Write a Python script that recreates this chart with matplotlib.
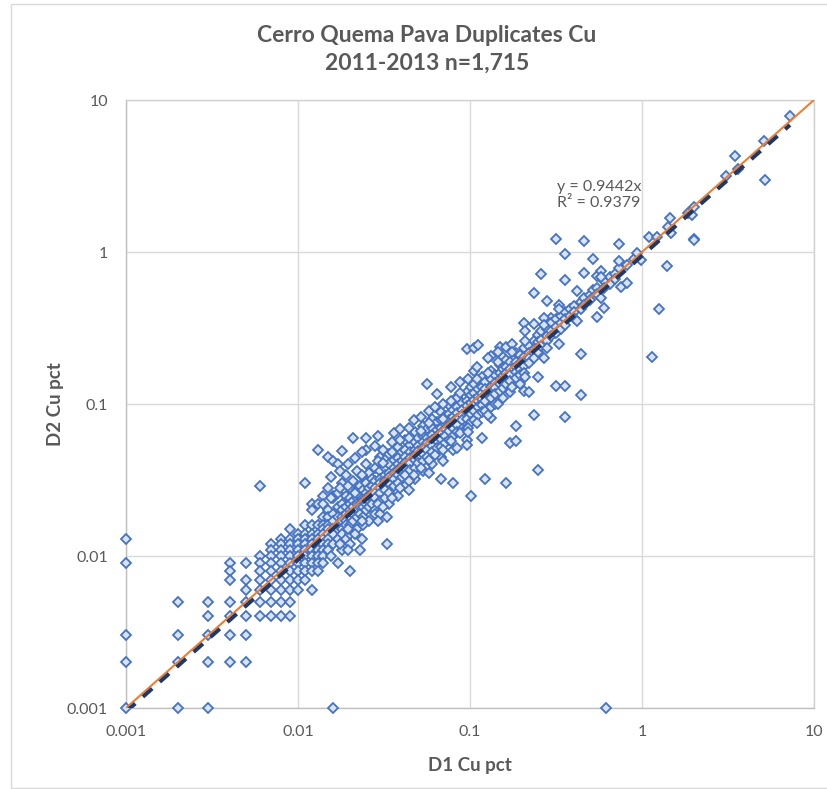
import numpy as np
import matplotlib.pyplot as plt
from matplotlib.patches import Rectangle

plt.rcParams['font.family'] = ['Lato', 'DejaVu Sans']

TITLE = "Cerro Quema Pava Duplicates Cu\n2011-2013 n=1,715"
X_LABEL = "D1 Cu pct"
Y_LABEL = "D2 Cu pct"
TICKS = [0.001, 0.01, 0.1, 1, 10]
TICK_LABELS = ["0.001", "0.01", "0.1", "1", "10"]
SLOPE = 0.9442
R2 = 0.9379

# Low grades: results land on the 0.001 % reporting step (D1 value, D2 values)
grid_cols = [
    (0.001, [0.013, 0.009, 0.003, 0.002, 0.001]),
    (0.002, [0.005, 0.003, 0.002, 0.001]),
    (0.003, [0.005, 0.004, 0.003, 0.002, 0.001]),
    (0.004, [0.009, 0.008, 0.007, 0.005, 0.004, 0.003, 0.002]),
    (0.005, [0.009, 0.007, 0.006, 0.005, 0.004, 0.003, 0.002]),
    (0.006, [0.029, 0.010, 0.009, 0.008, 0.007, 0.006, 0.005, 0.004]),
    (0.007, [0.012, 0.011, 0.010, 0.009, 0.008, 0.007, 0.006, 0.005, 0.004]),
    (0.008, [0.013, 0.012, 0.011, 0.010, 0.009, 0.008, 0.007, 0.006, 0.005, 0.004]),
    (0.009, [0.015, 0.013, 0.012, 0.011, 0.010, 0.009, 0.008, 0.007, 0.006, 0.005, 0.004]),
    (0.010, [0.014, 0.013, 0.012, 0.011, 0.010, 0.009, 0.008, 0.007, 0.006]),
    (0.011, [0.030, 0.016, 0.014, 0.013, 0.012, 0.011, 0.010, 0.009, 0.008, 0.007]),
    (0.012, [0.022, 0.020, 0.016, 0.014, 0.013, 0.012, 0.011, 0.010, 0.009, 0.008, 0.006]),
    (0.013, [0.050, 0.022, 0.016, 0.014, 0.013, 0.012, 0.011, 0.010, 0.009, 0.008]),
    (0.014, [0.025, 0.022, 0.018, 0.016, 0.015, 0.014, 0.013, 0.012, 0.011, 0.010, 0.009]),
]

# Main body of the duplicate cloud (D1 value, D2 values)
core_cols = [
    (0.015, [0.045, 0.028, 0.020, 0.018, 0.016, 0.015, 0.014, 0.013, 0.012, 0.011]),
    (0.016, [0.042, 0.025, 0.024, 0.019, 0.017, 0.015, 0.014, 0.012, 0.001]),
    (0.017, [0.040, 0.026, 0.021, 0.018, 0.016, 0.015, 0.013, 0.009]),
    (0.018, [0.049, 0.030, 0.022, 0.020, 0.018, 0.017, 0.015, 0.014, 0.011]),
    (0.019, [0.034, 0.025, 0.021, 0.019, 0.017, 0.016, 0.013]),
    (0.020, [0.028, 0.024, 0.022, 0.020, 0.019, 0.018, 0.016, 0.014, 0.012, 0.008]),
    (0.021, [0.060, 0.031, 0.023, 0.021, 0.019, 0.017]),
    (0.022, [0.036, 0.027, 0.024, 0.022, 0.020, 0.018, 0.015]),
    (0.023, [0.029, 0.025, 0.022, 0.021, 0.019, 0.011]),
    (0.024, [0.033, 0.027, 0.024, 0.023, 0.021, 0.018, 0.016]),
    (0.025, [0.060, 0.050, 0.040, 0.030, 0.026, 0.024, 0.022, 0.020]),
    (0.026, [0.035, 0.028, 0.025, 0.023, 0.021, 0.017]),
    (0.027, [0.032, 0.029, 0.026, 0.024, 0.022]),
    (0.028, [0.053, 0.038, 0.031, 0.028, 0.026, 0.024, 0.020, 0.019]),
    (0.030, [0.045, 0.036, 0.032, 0.030, 0.028, 0.026, 0.023, 0.019]),
    (0.032, [0.038, 0.034, 0.031, 0.029, 0.027, 0.024]),
    (0.033, [0.044, 0.018, 0.012]),
    (0.034, [0.047, 0.040, 0.035, 0.033, 0.030, 0.026, 0.022]),
    (0.036, [0.064, 0.043, 0.038, 0.035, 0.032, 0.029]),
    (0.038, [0.052, 0.044, 0.040, 0.037, 0.034, 0.030, 0.025]),
    (0.040, [0.048, 0.042, 0.039, 0.036, 0.033]),
    (0.042, [0.058, 0.050, 0.045, 0.041, 0.038, 0.034, 0.029]),
    (0.045, [0.054, 0.048, 0.044, 0.041, 0.037]),
    (0.048, [0.065, 0.056, 0.050, 0.046, 0.043, 0.038, 0.032]),
    (0.050, [0.060, 0.053, 0.049, 0.045, 0.041]),
    (0.053, [0.072, 0.062, 0.056, 0.051, 0.047, 0.042, 0.036]),
    (0.056, [0.136, 0.068, 0.060, 0.055, 0.050, 0.045]),
    (0.060, [0.080, 0.070, 0.063, 0.058, 0.053, 0.048, 0.040]),
    (0.064, [0.116, 0.076, 0.067, 0.062, 0.057, 0.051]),
    (0.068, [0.088, 0.078, 0.070, 0.064, 0.059, 0.052, 0.045, 0.032]),
    (0.072, [0.083, 0.074, 0.068, 0.062, 0.055]),
    (0.076, [0.098, 0.086, 0.078, 0.072, 0.066, 0.058]),
    (0.080, [0.092, 0.082, 0.076, 0.070, 0.062, 0.050, 0.030]),
    (0.084, [0.112, 0.110, 0.096, 0.087, 0.080, 0.073, 0.065, 0.051]),
    (0.090, [0.102, 0.092, 0.085, 0.078, 0.068]),
    (0.096, [0.229, 0.120, 0.105, 0.097, 0.088, 0.080, 0.070, 0.058, 0.054]),
    (0.101, [0.129, 0.115, 0.102, 0.094, 0.086, 0.076, 0.025]),
    (0.106, [0.232, 0.164, 0.135, 0.118, 0.106, 0.098, 0.090, 0.078]),
    (0.111, [0.243, 0.125, 0.112, 0.104, 0.095, 0.085]),
    (0.117, [0.150, 0.130, 0.118, 0.108, 0.098, 0.088, 0.060]),
    (0.122, [0.140, 0.125, 0.114, 0.104, 0.090, 0.032]),
    (0.132, [0.208, 0.165, 0.145, 0.130, 0.120, 0.110, 0.095, 0.081]),
    (0.140, [0.155, 0.138, 0.128, 0.116, 0.100]),
    (0.149, [0.237, 0.180, 0.160, 0.145, 0.135, 0.122]),
    (0.155, [0.205, 0.170, 0.152, 0.140, 0.128, 0.110]),
    (0.162, [0.237, 0.195, 0.175, 0.160, 0.148, 0.135, 0.030]),
    (0.170, [0.190, 0.170, 0.156, 0.142, 0.120, 0.055]),
    (0.186, [0.215, 0.190, 0.176, 0.162, 0.148, 0.072, 0.057]),
    (0.195, [0.136, 0.210, 0.185, 0.170, 0.155]),
    (0.206, [0.340, 0.235, 0.205, 0.190, 0.178, 0.160, 0.122]),
    (0.220, [0.240, 0.215, 0.200, 0.185, 0.120]),
    (0.234, [0.535, 0.335, 0.260, 0.230, 0.215, 0.200, 0.085]),
    (0.248, [0.285, 0.255, 0.235, 0.220, 0.151, 0.037]),
    (0.258, [0.716, 0.300, 0.265, 0.240]),
    (0.282, [0.476, 0.310, 0.280, 0.260, 0.235]),
    (0.295, [0.370, 0.340, 0.300, 0.280]),
    (0.318, [1.220, 0.360, 0.320, 0.295, 0.131]),
    (0.340, [0.380, 0.340, 0.310]),
    (0.357, [0.971, 0.657, 0.400, 0.360, 0.330, 0.131, 0.082]),
    (0.380, [0.420, 0.380]),
    (0.400, [0.440, 0.400, 0.370]),
    (0.440, [0.470, 0.420, 0.213, 0.115]),
    (0.462, [1.175, 0.724, 0.500, 0.450]),
    (0.500, [0.520, 0.480]),
    (0.520, [0.895, 0.560]),
    (0.545, [0.700, 0.580, 0.530, 0.372]),
    (0.600, [0.640, 0.580, 0.430]),
    (0.650, [0.680, 0.620]),
    (0.700, [0.720, 0.660]),
    (0.738, [1.124, 0.780, 0.870]),
    (0.760, [0.590]),
    (0.820, [0.820, 0.630]),
    (0.900, [0.900]),
    (0.930, [0.980]),
    (0.990, [0.890]),
]

# Wider scatter on both sides of the band (D1 value, D2 values)
fringe_cols = [
    (0.0155, [0.033, 0.024, 0.010]),
    (0.0175, [0.036, 0.028, 0.012]),
    (0.0195, [0.040, 0.029, 0.015, 0.011]),
    (0.0215, [0.044, 0.026, 0.014]),
    (0.0235, [0.048, 0.034, 0.017, 0.013]),
    (0.029, [0.062, 0.042, 0.022, 0.017]),
    (0.031, [0.050, 0.041, 0.021]),
    (0.035, [0.056, 0.048, 0.024]),
    (0.039, [0.068, 0.058, 0.028]),
    (0.044, [0.070, 0.060, 0.031, 0.027]),
    (0.047, [0.078, 0.034]),
    (0.052, [0.082, 0.066, 0.038]),
    (0.058, [0.090, 0.075, 0.043, 0.035]),
    (0.063, [0.095, 0.046]),
    (0.070, [0.100, 0.080, 0.050, 0.042]),
    (0.078, [0.130, 0.105, 0.057]),
    (0.088, [0.140, 0.118, 0.064]),
    (0.098, [0.145, 0.070, 0.065]),
    (0.110, [0.175, 0.145, 0.075]),
    (0.127, [0.200, 0.160, 0.085]),
    (0.145, [0.220, 0.190, 0.100]),
    (0.175, [0.250, 0.220, 0.130]),
    (0.210, [0.300, 0.260, 0.150]),
    (0.270, [0.370, 0.330, 0.200]),
    (0.330, [0.450, 0.420, 0.250]),
    (0.420, [0.550, 0.350]),
    (0.580, [0.750, 0.680, 0.500]),
]

# Upper grades and isolated pairs (D1, D2)
high_d1 = [0.62, 1.10, 1.14, 1.22, 1.26, 1.39, 1.42, 1.46, 1.48, 1.86, 1.96,
           2.00, 2.00, 2.01, 3.06, 3.47, 3.60, 5.14, 5.22, 7.25]
high_d2 = [0.001, 1.26, 0.205, 1.26, 0.424, 0.81, 1.47, 1.68, 1.34, 1.81, 1.74,
           1.98, 1.21, 1.20, 3.17, 4.28, 3.51, 5.37, 2.98, 7.85]


def expand(cols):
    xs, ys = [], []
    for x, yvals in cols:
        xs.extend([x] * len(yvals))
        ys.extend(yvals)
    return xs, ys


gx, gy = expand(grid_cols)
cx, cy = expand(core_cols)
fx, fy = expand(fringe_cols)
d1 = np.array(gx + cx + fx + high_d1)
d2 = np.array(gy + cy + fy + high_d2)

fig = plt.figure(figsize=(8.27, 7.89), dpi=100)
fig.patch.set_facecolor("white")

# chart-area frame
fig.add_artist(Rectangle((11 / 827, 1 / 789), 1.2, 784 / 789, transform=fig.transFigure,
                         fill=False, edgecolor="#d9d9d9", linewidth=1.0))

ax = fig.add_axes([126 / 827, 1 - 708 / 789, 688 / 827, 608 / 789])
ax.set_xscale("log")
ax.set_yscale("log")
ax.set_xlim(0.001, 10)
ax.set_ylim(0.001, 10)

ax.grid(True, which="major", color="#d9d9d9", linewidth=1.0)
ax.set_axisbelow(True)
for s in ax.spines.values():
    s.set_color("#d0d0d0")
    s.set_linewidth(1.0)
ax.spines["left"].set_color("#bfbfbf")
ax.spines["bottom"].set_color("#bfbfbf")

ax.set_xticks(TICKS)
ax.set_xticklabels(TICK_LABELS)
ax.set_yticks(TICKS)
ax.set_yticklabels(TICK_LABELS)
ax.minorticks_off()
ax.tick_params(which="both", length=0, colors="#595959", labelsize=11.5)
ax.tick_params(axis="x", pad=12)
ax.tick_params(axis="y", pad=13)

ax.plot(d1, d2, linestyle="none", marker="D", markersize=5.6,
        markerfacecolor="#dae3f3", markeredgecolor="#4472c4",
        markeredgewidth=1.3, zorder=3, clip_on=False)

# 1:1 reference line
ax.plot([0.001, 10], [0.001, 10], color="#ed7d31", linewidth=1.5, zorder=4)

# regression through the origin
tx = np.array([d1.min(), d1.max()])
ax.plot(tx, SLOPE * tx, color="#203864", linewidth=2.8, linestyle=(0, (3.2, 2.6)),
        zorder=5)

ax.text(557 / 827, 1 - 195 / 789, f"y = {SLOPE}x\nR\u00b2 = {R2}",
        transform=fig.transFigure, fontsize=11.5, color="#595959",
        ha="left", va="center", linespacing=1.1)

fig.text(427 / 827, 1 - 49 / 789, TITLE, ha="center", va="center",
         fontsize=16.5, fontweight="bold", color="#595959", linespacing=1.4)
fig.text(470 / 827, 1 - 765 / 789, X_LABEL, ha="center", va="center",
         fontsize=13.5, fontweight="bold", color="#595959")
fig.text(55 / 827, 1 - 404 / 789, Y_LABEL, ha="center", va="center",
         rotation=90, fontsize=13.5, fontweight="bold", color="#595959")

fig.savefig("out.png", dpi=100, facecolor="white")
